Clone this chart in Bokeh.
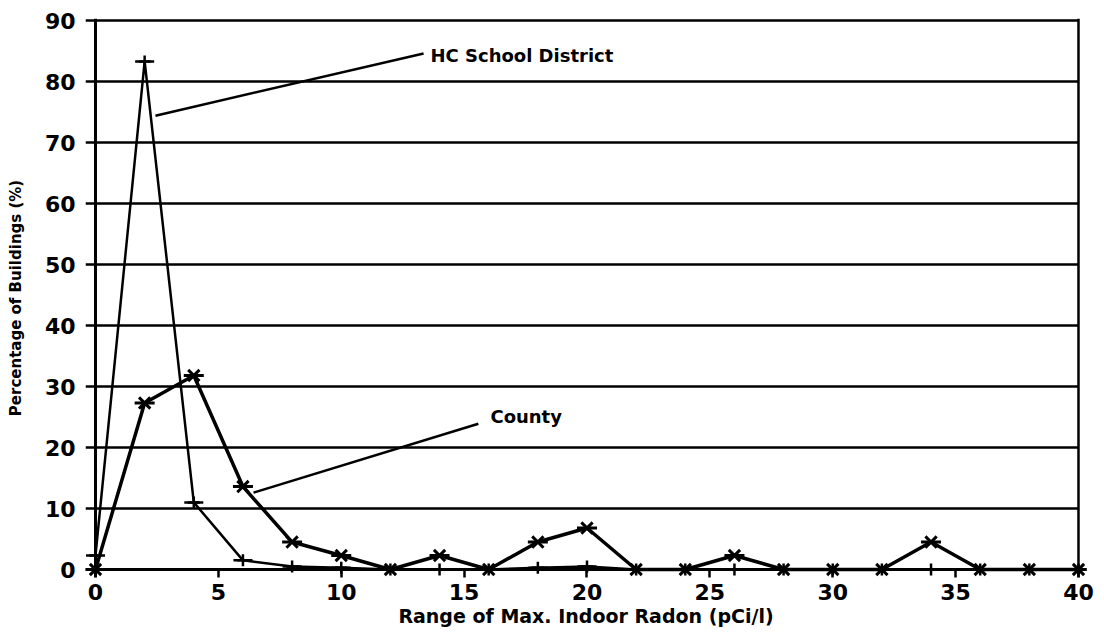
from bokeh.plotting import figure
from bokeh.models import Range1d, Span, Label, FixedTicker
from bokeh.embed import file_html
from bokeh.resources import INLINE

# ---- data ----
radon = [0, 2, 4, 6, 8, 10, 12, 14, 16, 18, 20, 22, 24, 26, 28, 30, 32, 34, 36, 38, 40]
hc_school = [2.3, 83.3, 11.0, 1.5, 0.5, 0.3, 0, 0, 0, 0.3, 0.5, 0, 0, 0, 0, 0, 0, 0, 0, 0, 0]
county = [0, 27.3, 31.8, 13.6, 4.5, 2.3, 0, 2.3, 0, 4.5, 6.8, 0, 0, 2.3, 0, 0, 0, 4.5, 0, 0, 0]
x_ticks = [0, 5, 10, 15, 20, 25, 30, 35, 40]
y_ticks = [0, 10, 20, 30, 40, 50, 60, 70, 80, 90]

x_title = "Range of Max. Indoor Radon (pCi/l)"
y_title = "Percentage of Buildings (%)"
hc_name = "HC School District"
county_name = "County"

FONT = "DejaVu Sans"

p = figure(width=1104, height=634,
           x_range=Range1d(-0.407, 40.326), y_range=Range1d(-1.311, 90.33),
           output_backend="svg", toolbar_location=None,
           min_border_left=85, min_border_right=18,
           min_border_top=18, min_border_bottom=57)
p.outline_line_color = None
p.background_fill_color = "white"
p.border_fill_color = "white"

# axes
p.xaxis.ticker = FixedTicker(ticks=x_ticks)
p.yaxis.ticker = FixedTicker(ticks=y_ticks)
for ax in (p.xaxis[0], p.yaxis[0]):
    ax.axis_line_color = None
    ax.minor_tick_line_color = None
    ax.major_label_text_font = FONT
    ax.major_label_text_font_style = "bold"
    ax.major_label_text_font_size = "22px"
    ax.major_label_text_color = "black"
    ax.axis_label_text_font = FONT
    ax.axis_label_text_font_style = "bold"
    ax.axis_label_text_color = "black"
p.xaxis.axis_label = x_title
p.xaxis.axis_label_text_font_size = "19px"
p.xaxis.axis_label_standoff = 2
p.yaxis.axis_label = y_title
p.yaxis.axis_label_text_font_size = "15px"
p.yaxis.axis_label_standoff = 17

p.xaxis.major_tick_in = 8
p.xaxis.major_tick_out = 0
p.xaxis.major_tick_line_width = 2.5
p.xaxis.major_tick_line_color = "black"
p.xaxis.major_label_standoff = 6
p.yaxis.major_tick_in = 0
p.yaxis.major_tick_out = 0
p.yaxis.major_tick_line_color = None
p.yaxis.major_label_standoff = 10

p.xgrid.visible = False
p.ygrid.grid_line_color = "black"
p.ygrid.grid_line_width = 2.5
try:
    p.ygrid[0].cross_bounds = (-0.407, 40)
except Exception:
    pass

# frame lines
p.add_layout(Span(location=0, dimension="height", line_color="black", line_width=3))
p.add_layout(Span(location=0, dimension="width", line_color="black", line_width=3))
p.add_layout(Span(location=40, dimension="height", line_color="black", line_width=2.5))

# series
p.line(radon, hc_school, line_color="black", line_width=2.5)
p.scatter(radon, hc_school, marker="cross", size=12, line_color="black", line_width=2.5)
p.scatter(radon, hc_school, marker="dash", size=19, line_color="black", line_width=2.5)

p.line(radon, county, line_color="black", line_width=3.5)
p.scatter(radon, county, marker="x", size=16, line_color="black", line_width=3)
p.scatter(radon, county, marker="dash", size=20, line_color="black", line_width=3)

# annotations (leader lines + names)
hc_leader = dict(x0=[2.44], y0=[74.4], x1=[13.35], y1=[84.6])
county_leader = dict(x0=[6.43], y0=[12.6], x1=[15.58], y1=[23.9])
p.segment(**hc_leader, line_color="black", line_width=2.5)
p.segment(**county_leader, line_color="black", line_width=2.5)

p.add_layout(Label(x=13.63, y=84.3, text=hc_name, text_font=FONT, text_font_style="bold",
                   text_font_size="18px", text_color="black",
                   text_baseline="middle", text_align="left"))
p.add_layout(Label(x=16.07, y=25.1, text=county_name, text_font=FONT, text_font_style="bold",
                   text_font_size="18px", text_color="black",
                   text_baseline="middle", text_align="left"))

open("out.html", "w").write(file_html(p, INLINE))
